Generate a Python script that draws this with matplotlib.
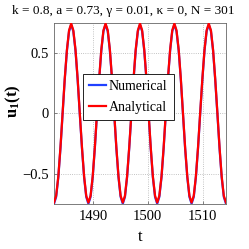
import matplotlib
matplotlib.use("Agg")
import matplotlib.pyplot as plt

plt.rcParams['font.family'] = ['Liberation Serif', 'DejaVu Serif']
plt.rcParams['mathtext.fontset'] = 'custom'
plt.rcParams['mathtext.rm'] = 'Liberation Serif'
plt.rcParams['mathtext.it'] = 'Liberation Serif:italic'
plt.rcParams['mathtext.bf'] = 'Liberation Serif:bold'

title = "k = 0.8, a = 0.73, \u03b3 = 0.01, \u03ba = 0, N = 301"
series_labels = ["Numerical", "Analytical"]
x_ticks = [1490, 1500, 1510]
y_ticks = [-0.5, 0, 0.5]

t = [1482.86, 1483.25, 1483.65, 1484.04, 1484.43, 1484.82, 1485.22, 1485.61,
     1486.00, 1486.39, 1486.79, 1487.18, 1487.57, 1487.97, 1488.36, 1488.75,
     1489.14, 1489.54, 1489.93, 1490.32, 1490.71, 1491.11, 1491.50, 1491.89,
     1492.28, 1492.68, 1493.07, 1493.46, 1493.86, 1494.25, 1494.64, 1495.03,
     1495.43, 1495.82, 1496.21, 1496.60, 1497.00, 1497.39, 1497.78, 1498.18,
     1498.57, 1498.96, 1499.35, 1499.75, 1500.14, 1500.53, 1500.92, 1501.32,
     1501.71, 1502.10, 1502.50, 1502.89, 1503.28, 1503.67, 1504.07, 1504.46,
     1504.85, 1505.24, 1505.64, 1506.03, 1506.42, 1506.81, 1507.21, 1507.60,
     1507.99, 1508.39, 1508.78, 1509.17, 1509.56, 1509.96, 1510.35, 1510.74,
     1511.13, 1511.53, 1511.92, 1512.31, 1512.71, 1513.10, 1513.49, 1513.88,
     1514.28]

u_analytical = [
    -0.740, -0.684, -0.523, -0.283, 0.000, 0.283, 0.523, 0.684,
    0.740, 0.684, 0.523, 0.283, 0.000, -0.283, -0.523, -0.684,
    -0.740, -0.684, -0.523, -0.283, 0.000, 0.283, 0.523, 0.684,
    0.740, 0.684, 0.523, 0.283, 0.000, -0.283, -0.523, -0.684,
    -0.740, -0.684, -0.523, -0.283, 0.000, 0.283, 0.523, 0.684,
    0.740, 0.684, 0.523, 0.283, 0.000, -0.283, -0.523, -0.684,
    -0.740, -0.684, -0.523, -0.283, 0.000, 0.283, 0.523, 0.684,
    0.740, 0.684, 0.523, 0.283, 0.000, -0.283, -0.523, -0.684,
    -0.740, -0.684, -0.523, -0.283, 0.000, 0.283, 0.523, 0.684,
    0.740, 0.684, 0.523, 0.283, 0.000, -0.283, -0.523, -0.684,
    -0.740]

u_numerical = [
    -0.750, -0.693, -0.531, -0.291, -0.008, 0.275, 0.515, 0.676,
    0.732, 0.676, 0.515, 0.275, -0.008, -0.291, -0.531, -0.693,
    -0.750, -0.693, -0.531, -0.291, -0.008, 0.275, 0.515, 0.676,
    0.732, 0.676, 0.515, 0.275, -0.008, -0.291, -0.531, -0.693,
    -0.750, -0.693, -0.531, -0.291, -0.008, 0.275, 0.515, 0.676,
    0.732, 0.676, 0.515, 0.275, -0.008, -0.291, -0.531, -0.693,
    -0.750, -0.693, -0.531, -0.291, -0.008, 0.275, 0.515, 0.676,
    0.732, 0.676, 0.515, 0.275, -0.008, -0.291, -0.531, -0.693,
    -0.750, -0.693, -0.531, -0.291, -0.008, 0.275, 0.515, 0.676,
    0.732, 0.676, 0.515, 0.275, -0.008, -0.291, -0.531, -0.693,
    -0.750]

fig = plt.figure(figsize=(2.49, 2.49), dpi=100)
ax = fig.add_axes([54/249, 45/249, 172/249, 181/249])

ax.plot(t, u_numerical, color='#2040ff', lw=1.6, label=series_labels[0], zorder=3)
ax.plot(t, u_analytical, color='#ff0000', lw=1.6, label=series_labels[1], zorder=4)

ax.set_xlim(1482.86, 1514.28)
ax.set_ylim(-0.752, 0.745)
ax.set_xticks(x_ticks)
ax.set_xticklabels([str(v) for v in x_ticks])
ax.set_yticks(y_ticks)
ax.set_yticklabels(['\u22120.5', '0', '0.5'])
ax.tick_params(direction='in', length=2, width=0.5, labelsize=10.5, pad=4, color='#555555')
ax.grid(True, linestyle=':', color='#b0b0b0', lw=0.6)
for s in ax.spines.values():
    s.set_color('#666666')
    s.set_linewidth(0.6)

fig.text(123/249, 1 - 11/249, title, fontsize=9.5, ha='center', va='center')
ax.set_xlabel('t', fontsize=12)
ax.xaxis.set_label_coords(0.5, -0.14)
ax.set_ylabel('u$_\\mathregular{1}$(t)', fontsize=12, fontweight='bold')
ax.yaxis.set_label_coords(-0.18, 0.57)

leg = ax.legend(loc='center', bbox_to_anchor=(0.433, 0.591), fontsize=10,
                fancybox=False, framealpha=1, edgecolor='black',
                handlelength=1.2, handletextpad=0.2, borderpad=0.45,
                labelspacing=0.6, borderaxespad=0)
leg.get_frame().set_linewidth(0.6)

fig.savefig('out.png', dpi=100)
